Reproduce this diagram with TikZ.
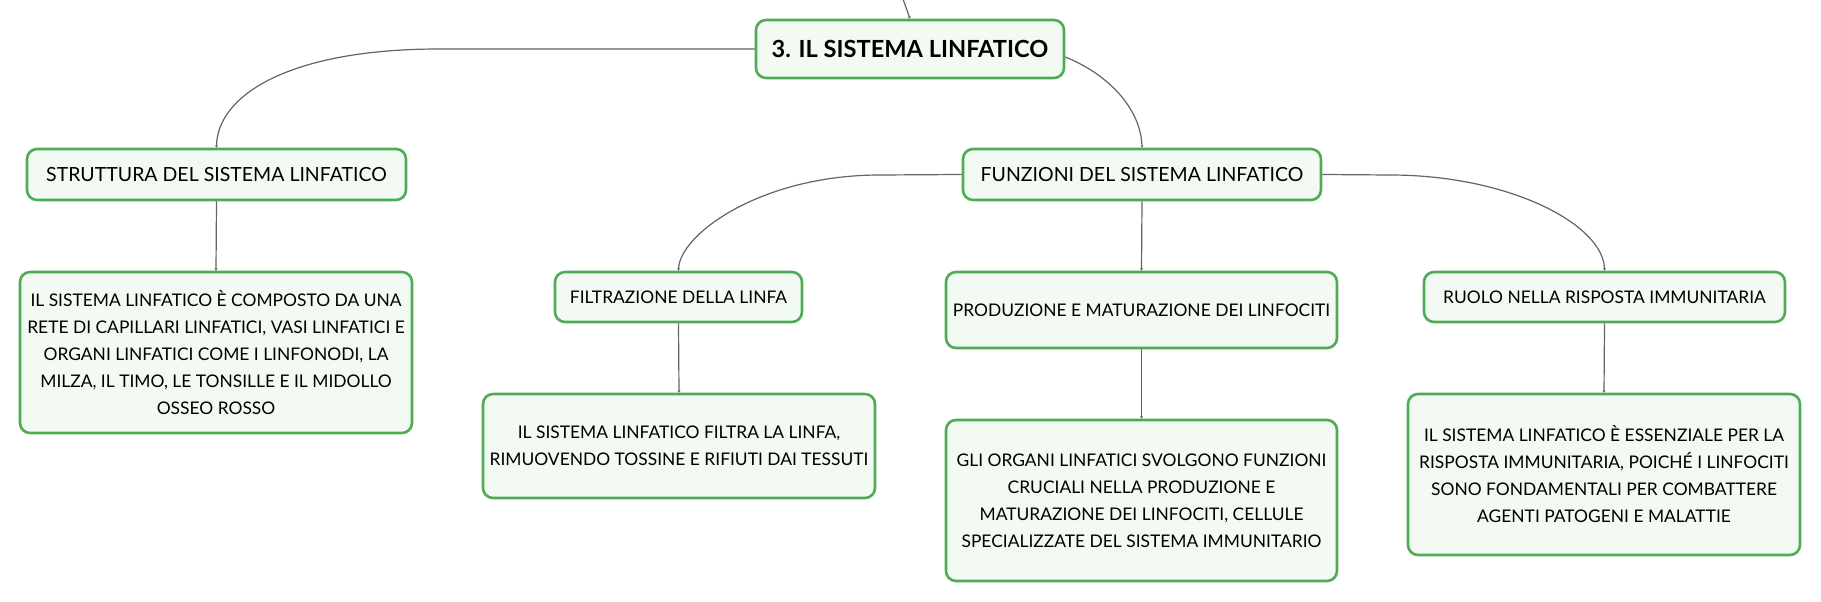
\documentclass[tikz,border=0pt]{standalone}
\usepackage{fontspec}
\setmainfont{Lato}
\usetikzlibrary{arrows.meta}
\definecolor{boxgreen}{RGB}{80,172,84}
\definecolor{boxfill}{RGB}{243,250,244}
\definecolor{linkgray}{RGB}{100,100,100}
\begin{document}
\begin{tikzpicture}[x=1pt,y=-1pt,
  box/.style={draw=boxgreen, line width=2.6pt, fill=boxfill, rounded corners=10pt,
    align=center, inner sep=0pt, text=black, font=\fontsize{17.4}{27}\selectfont},
  headbox/.style={box, font=\fontsize{19.5}{27}\selectfont},
  rootbox/.style={box, font=\bfseries\fontsize{23.6}{27}\selectfont},
  link/.style={draw=linkgray, line width=1.2pt, -{Stealth[length=2.5pt,width=3pt]}}]
\useasboundingbox (0,0) rectangle (1821,602);

\node[rootbox, minimum width=308pt, minimum height=58pt] (root) at (910,49) {3. IL SISTEMA LINFATICO};

\node[headbox, minimum width=379pt, minimum height=51pt] (s1) at (216.5,174.5) {STRUTTURA DEL SISTEMA LINFATICO};
\node[box, minimum width=392pt, minimum height=161pt] (d1) at (216,352.5)
  {IL SISTEMA LINFATICO È COMPOSTO DA UNA\\RETE DI CAPILLARI LINFATICI, VASI LINFATICI E\\ORGANI LINFATICI COME I LINFONODI, LA\\MILZA, IL TIMO, LE TONSILLE E IL MIDOLLO\\OSSEO ROSSO};

\node[headbox, minimum width=358pt, minimum height=51pt] (f) at (1142,174.5) {FUNZIONI DEL SISTEMA LINFATICO};

\node[box, minimum width=247pt, minimum height=50pt] (f1) at (678.5,297) {FILTRAZIONE DELLA LINFA};
\node[box, minimum width=392pt, minimum height=104pt] (f1d) at (679,446)
  {IL SISTEMA LINFATICO FILTRA LA LINFA,\\RIMUOVENDO TOSSINE E RIFIUTI DAI TESSUTI};

\node[box, minimum width=391pt, minimum height=76pt] (f2) at (1141.5,310) {PRODUZIONE E MATURAZIONE DEI LINFOCITI};
\node[box, minimum width=391pt, minimum height=161pt] (f2d) at (1141.5,500.5)
  {GLI ORGANI LINFATICI SVOLGONO FUNZIONI\\CRUCIALI NELLA PRODUZIONE E\\MATURAZIONE DEI LINFOCITI, CELLULE\\SPECIALIZZATE DEL SISTEMA IMMUNITARIO};

\node[box, minimum width=361pt, minimum height=50pt] (f3) at (1604.5,297) {RUOLO NELLA RISPOSTA IMMUNITARIA};
\node[box, minimum width=392pt, minimum height=161pt] (f3d) at (1604,474.5)
  {IL SISTEMA LINFATICO È ESSENZIALE PER LA\\RISPOSTA IMMUNITARIA, POICHÉ I LINFOCITI\\SONO FONDAMENTALI PER COMBATTERE\\AGENTI PATOGENI E MALATTIE};

\coordinate (top) at (903,-1);
\draw[link] (top) .. controls (906,8) .. (root.north);
\draw[link] (root.west) -- (439,49) .. controls (290,49) and (217,95) .. (s1.north);
\draw[link] (s1.south) -- (d1.north);
\draw[link] ([yshift=-8pt]root.east) .. controls (1110,75) and (1141,110) .. (f.north);
\draw[link] (f.west) -- (880,175) .. controls (760,175) and (679,235) .. (f1.north);
\draw[link] (f.south) -- (f2.north);
\draw[link] (f.east) -- (1390,175) .. controls (1510,175) and (1604,225) .. (f3.north);
\draw[link] (f1.south) -- (f1d.north);
\draw[link] (f2.south) -- (f2d.north);
\draw[link] (f3.south) -- (f3d.north);
\end{tikzpicture}
\end{document}
